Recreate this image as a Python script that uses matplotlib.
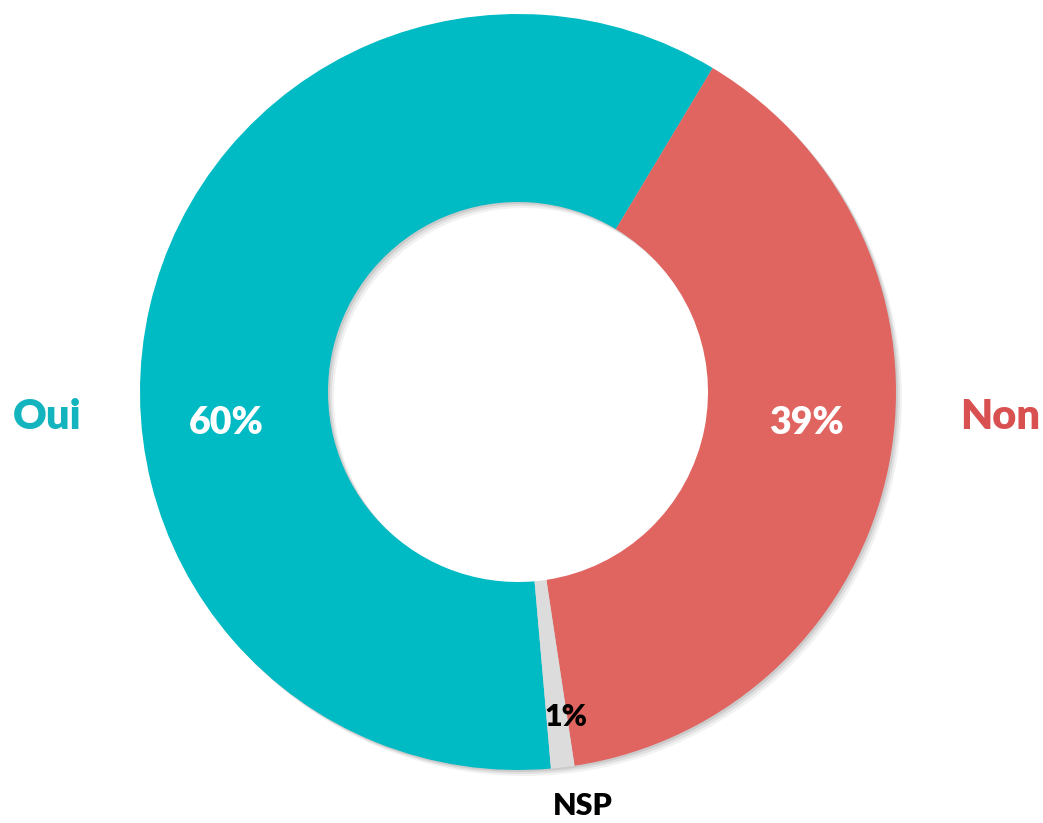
import matplotlib
matplotlib.use("Agg")
import matplotlib.pyplot as plt
from matplotlib.patches import Wedge

categories = ["Oui", "Non", "NSP"]
values = [60, 39, 1]
pct_labels = ["60%", "39%", "1%"]
colors = ["#00BAC4", "#E0645F", "#DCDCDC"]
name_colors = ["#14B4BE", "#D95050", "#000000"]

W, H = 1043, 823
fig = plt.figure(figsize=(W / 100, H / 100), dpi=100)
ax = fig.add_axes([0, 0, 1, 1])

cx, cy = 518, H - 392
R = 378
ring = 188

# soft shadow
for off, a in [(6, 0.05), (4, 0.07), (2, 0.09)]:
    ax.add_patch(Wedge((cx + off, cy - off), R, 0, 360, width=ring,
                       facecolor="black", alpha=a, edgecolor="none", zorder=1))

ax.pie(values, colors=colors, startangle=-85, counterclock=False,
       center=(cx, cy), radius=R, frame=True,
       wedgeprops=dict(width=ring, edgecolor="none", zorder=2))
ax.set_xlim(0, W)
ax.set_ylim(0, H)
ax.set_aspect("equal")
ax.axis("off")

font = ["Lato", "DejaVu Sans"]
wt = "heavy"
ax.text(226, H - 423, pct_labels[0], color="white", fontsize=27, fontweight=wt,
        family=font, ha="center", va="center", zorder=5)
ax.text(806, H - 423, pct_labels[1], color="white", fontsize=27, fontweight=wt,
        family=font, ha="center", va="center", zorder=5)
ax.text(566, H - 717, pct_labels[2], color="black", fontsize=22, fontweight=wt,
        family=font, ha="center", va="center", zorder=5)
ax.text(47, H - 417, categories[0], color=name_colors[0], fontsize=30, fontweight=wt,
        family=font, ha="center", va="center", zorder=5)
ax.text(1000, H - 417, categories[1], color=name_colors[1], fontsize=30, fontweight=wt,
        family=font, ha="center", va="center", zorder=5)
ax.text(583, H - 806, categories[2], color=name_colors[2], fontsize=22, fontweight=wt,
        family=font, ha="center", va="center", zorder=5)

fig.savefig("out.png", dpi=100, facecolor="white")
